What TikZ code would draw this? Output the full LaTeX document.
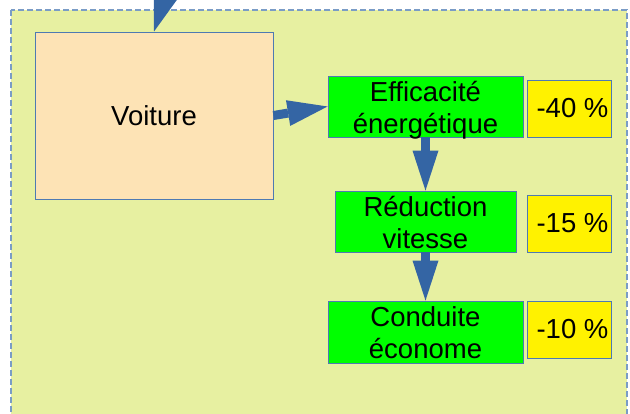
\documentclass[tikz,border=0pt]{standalone}
\usepackage{fontspec}
\setmainfont{Liberation Sans}
\usetikzlibrary{arrows.meta}
\definecolor{frameFill}{RGB}{231,240,161}
\definecolor{frameLine}{RGB}{122,156,198}
\definecolor{carFill}{RGB}{253,227,181}
\definecolor{boxLine}{RGB}{78,122,178}
\definecolor{arrowBlue}{RGB}{52,101,164}
\newcommand{\twolines}[2]{\smash{\raisebox{-10.6pt}{\begin{tabular}{@{}c@{}}#1\\#2\end{tabular}}}}
\begin{document}
\begin{tikzpicture}[x=1pt,y=-1pt,
  box/.style={draw=boxLine,line width=0.9pt,inner sep=0pt,font=\fontsize{27.5}{32}\selectfont},
  greenbox/.style={box,fill=green,minimum width=195pt,minimum height=61pt},
  pctbox/.style={box,fill=yellow,minimum width=84pt,minimum height=57pt},
  bigarrow/.style={arrowBlue,line width=9pt,-{Triangle[length=40pt,width=26pt,line width=0pt]}}]
\path[use as bounding box,clip] (0,0) rectangle (630,414);
\draw[frameLine,fill=frameFill,line width=1.2pt,dash pattern=on 6pt off 3pt] (11,10) rectangle (627,440);
\node[box,fill=carFill,minimum width=238pt,minimum height=167pt] (car) at (154,115.5) {Voiture};
\node[greenbox] (eff) at (425.5,106.5) {\twolines{Efficacité}{énergétique}};
\node[pctbox] (p40) at (569,108.5) {\hspace*{7pt}-40 \%};
\node[greenbox,minimum width=181pt] (red) at (425.5,221.5) {\twolines{Réduction}{vitesse}};
\node[pctbox] (p15) at (569,223.5) {\hspace*{7pt}-15 \%};
\node[greenbox,minimum height=62pt] (cond) at (425.5,332) {\twolines{Conduite}{économe}};
\node[pctbox] (p10) at (569,329.5) {\hspace*{7pt}-10 \%};
\coordinate (src) at (184.6,-63.5);
\draw[bigarrow] (src) -- (car.north);
\draw[bigarrow] (car.east) -- (eff.west);
\draw[bigarrow] (eff.south) -- (red.north);
\draw[bigarrow] (red.south) -- (cond.north);
\end{tikzpicture}
\end{document}
